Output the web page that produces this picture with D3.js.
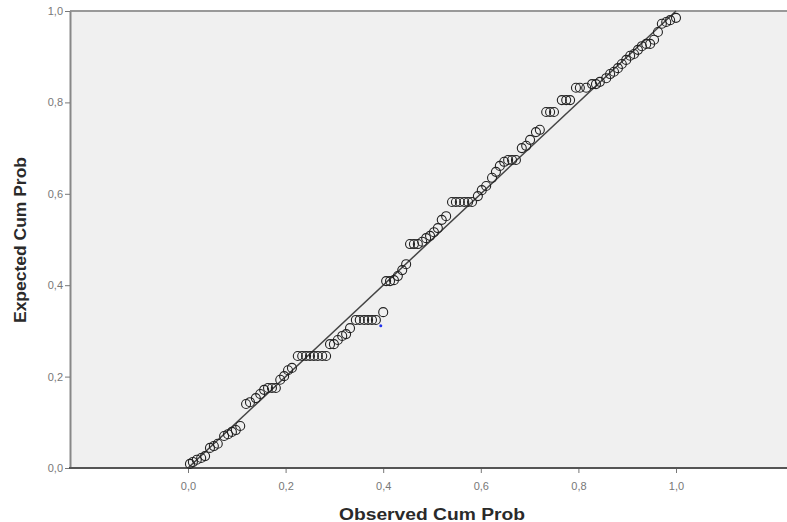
<!DOCTYPE html>
<html>
<head>
<meta charset="utf-8">
<script src="https://cdn.jsdelivr.net/npm/d3@7"></script>
<style>
  body { margin: 0; background: #fff; }
  svg { display: block; font-family: "Liberation Sans", Arial, sans-serif; }
</style>
</head>
<body>
<div id="chart"></div>
<script>
/* DATA */
const observed = [0.004,0.010,0.018,0.027,0.035,0.045,0.053,0.061,0.074,0.082,0.090,0.098,0.107,
  0.119,0.127,0.139,0.148,0.156,0.164,0.172,0.180,0.189,0.197,0.205,0.213,
  0.225,0.234,0.242,0.250,0.258,0.266,0.275,0.283,0.291,0.299,0.307,0.316,0.324,0.332,
  0.344,0.352,0.361,0.369,0.377,0.385,0.400,
  0.406,0.414,0.422,0.430,0.439,0.447,0.455,0.463,0.471,0.480,0.488,0.496,0.504,0.512,0.520,0.529,
  0.541,0.549,0.557,0.566,0.574,0.582,0.594,0.602,0.611,0.623,0.631,0.639,0.648,0.656,0.664,0.672,
  0.684,0.693,0.701,0.713,0.721,0.734,0.742,0.750,0.766,0.775,0.783,0.795,0.803,0.816,0.828,0.836,
  0.844,0.857,0.865,0.873,0.881,0.889,0.898,0.906,0.914,0.922,0.930,0.939,0.947,0.955,0.963,0.971,
  0.980,0.988,1.000];
const expected = [0.009,0.013,0.018,0.022,0.026,0.044,0.048,0.053,0.070,0.074,0.079,0.083,0.092,
  0.140,0.144,0.153,0.162,0.171,0.175,0.175,0.175,0.193,0.201,0.214,0.219,
  0.245,0.245,0.245,0.245,0.245,0.245,0.245,0.245,0.271,0.271,0.280,0.289,0.293,0.306,
  0.324,0.324,0.324,0.324,0.324,0.324,0.341,
  0.409,0.409,0.411,0.420,0.433,0.446,0.490,0.490,0.490,0.495,0.503,0.508,0.516,0.525,0.543,0.551,
  0.582,0.582,0.582,0.582,0.582,0.582,0.595,0.608,0.617,0.635,0.648,0.661,0.670,0.674,0.674,0.674,
  0.700,0.705,0.718,0.735,0.740,0.779,0.779,0.779,0.805,0.805,0.805,0.832,0.832,0.832,0.840,0.840,
  0.845,0.853,0.862,0.867,0.875,0.884,0.893,0.902,0.906,0.915,0.923,0.928,0.928,0.937,0.954,0.972,
  0.976,0.980,0.985];
const selectedPoint = [0.395, 0.311];
const xTicks = [0, 0.2, 0.4, 0.6, 0.8, 1.0];
const yTicks = [0, 0.2, 0.4, 0.6, 0.8, 1.0];

const width = 787, height = 522;
const plot = { left: 70, right: 787, top: 11, bottom: 468 };
const fmt = d => d3.format(".1f")(d).replace(".", ",");

const svg = d3.select("#chart").append("svg")
  .attr("width", width)
  .attr("height", height);

const xScale = d3.scaleLinear().domain([0, 1]).range([188, 676]);
const yScale = d3.scaleLinear().domain([0, 1]).range([plot.bottom, plot.top]);

// plot background
svg.append("rect")
  .attr("x", plot.left).attr("y", plot.top)
  .attr("width", plot.right - plot.left).attr("height", plot.bottom - plot.top)
  .attr("fill", "#f0f0f0");

// top border
svg.append("line")
  .attr("x1", plot.left).attr("x2", plot.right)
  .attr("y1", plot.top).attr("y2", plot.top)
  .attr("stroke", "#999").attr("stroke-width", 2);

// y axis
const yAxis = svg.append("g")
  .attr("transform", `translate(${plot.left},0)`)
  .call(d3.axisLeft(yScale).tickValues(yTicks).tickFormat(fmt).tickSize(5).tickSizeOuter(0));
yAxis.select(".domain").attr("stroke", "#888").attr("stroke-width", 2);
yAxis.selectAll(".tick line").attr("stroke", "#777");
yAxis.selectAll(".tick text").attr("fill", "#777").attr("font-size", 11).attr("x", -7);

// x axis
const xAxis = svg.append("g")
  .attr("transform", `translate(0,${plot.bottom})`)
  .call(d3.axisBottom(xScale).tickValues(xTicks).tickFormat(fmt).tickSize(5).tickSizeOuter(0));
xAxis.select(".domain").remove();
xAxis.append("line")
  .attr("x1", plot.left - 1).attr("x2", plot.right)
  .attr("stroke", "#555").attr("stroke-width", 2);
xAxis.selectAll(".tick line").attr("stroke", "#777");
xAxis.selectAll(".tick text").attr("fill", "#777").attr("font-size", 11).attr("y", 14);

// axis titles
svg.append("text")
  .attr("x", (xScale(0) + xScale(1)) / 2).attr("y", 520)
  .attr("text-anchor", "middle")
  .attr("font-size", 16).attr("font-weight", "bold").attr("fill", "#2a2a2a")
  .attr("textLength", 186).attr("lengthAdjust", "spacingAndGlyphs")
  .text("Observed Cum Prob");

svg.append("text")
  .attr("transform", `translate(26,240) rotate(-90)`)
  .attr("text-anchor", "middle")
  .attr("font-size", 16).attr("font-weight", "bold").attr("fill", "#2a2a2a")
  .attr("textLength", 166).attr("lengthAdjust", "spacingAndGlyphs")
  .text("Expected Cum Prob");

// reference line
svg.append("line")
  .attr("x1", xScale(0)).attr("y1", yScale(0))
  .attr("x2", xScale(1)).attr("y2", yScale(1))
  .attr("stroke", "#444").attr("stroke-width", 1.5);

// points
const points = observed.map((d, i) => ({ obs: d, exp: expected[i] }));
svg.append("g").selectAll("circle")
  .data(points)
  .join("circle")
    .attr("cx", d => xScale(d.obs))
    .attr("cy", d => yScale(d.exp))
    .attr("r", 4.5)
    .attr("fill", "none")
    .attr("stroke", "#222")
    .attr("stroke-width", 1.1);

svg.append("circle")
  .attr("cx", xScale(selectedPoint[0]))
  .attr("cy", yScale(selectedPoint[1]))
  .attr("r", 1.5)
  .attr("fill", "#2233ee");
</script>
</body>
</html>
